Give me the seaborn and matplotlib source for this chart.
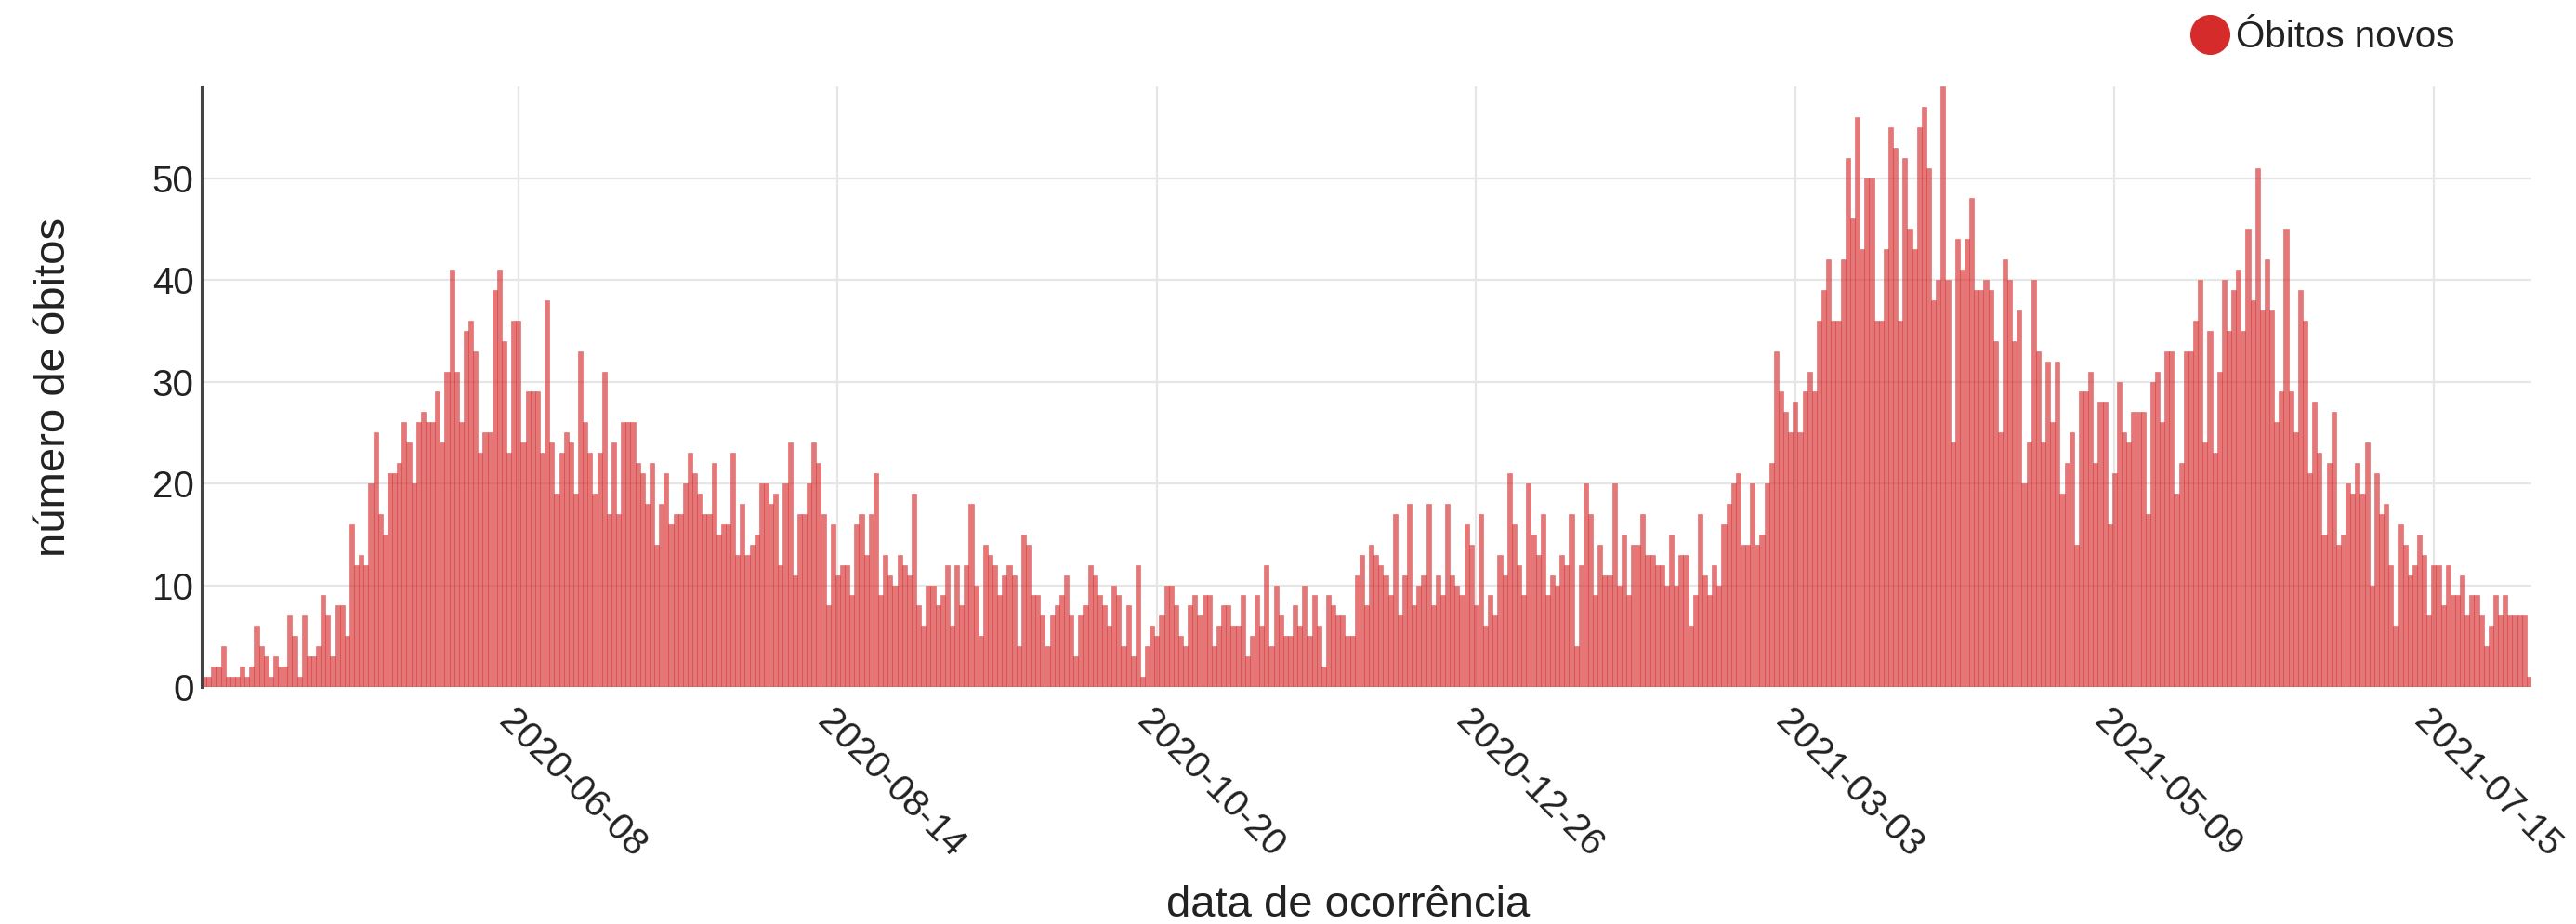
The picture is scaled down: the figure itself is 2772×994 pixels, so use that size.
import matplotlib
matplotlib.use("Agg")
import matplotlib.pyplot as plt
import matplotlib.transforms as mtransforms
from matplotlib.lines import Line2D
import pandas as pd
import seaborn as sns

# daily new deaths, one value per day starting at primeiro_dia
primeiro_dia = "2020-04-03"
obitos_novos = [
    1, 1, 2, 2, 4, 1, 1, 1, 2, 1,
    2, 6, 4, 3, 1, 3, 2, 2, 7, 5,
    1, 7, 3, 3, 4, 9, 7, 3, 8, 8,
    5, 16, 12, 13, 12, 20, 25, 17, 15, 21,
    21, 22, 26, 24, 20, 26, 27, 26, 26, 29,
    24, 31, 41, 31, 26, 35, 36, 33, 23, 25,
    25, 39, 41, 34, 23, 36, 36, 24, 29, 29,
    29, 23, 38, 24, 19, 23, 25, 24, 19, 33,
    26, 23, 19, 23, 31, 17, 24, 17, 26, 26,
    26, 22, 21, 18, 22, 14, 18, 21, 16, 17,
    17, 20, 23, 21, 19, 17, 17, 22, 15, 16,
    16, 23, 13, 18, 13, 14, 15, 20, 20, 18,
    19, 12, 20, 24, 11, 17, 17, 20, 24, 22,
    17, 8, 16, 11, 12, 12, 9, 16, 17, 13,
    17, 21, 9, 13, 11, 10, 13, 12, 11, 19,
    8, 6, 10, 10, 8, 9, 12, 6, 12, 8,
    12, 18, 10, 5, 14, 13, 12, 9, 11, 12,
    11, 4, 15, 14, 9, 9, 7, 4, 7, 8,
    9, 11, 7, 3, 7, 8, 12, 11, 9, 8,
    6, 10, 9, 4, 8, 3, 12, 1, 4, 6,
    5, 7, 10, 10, 8, 5, 4, 8, 9, 7,
    9, 9, 4, 6, 8, 8, 6, 6, 9, 3,
    5, 9, 6, 12, 4, 10, 7, 5, 5, 8,
    6, 10, 5, 9, 6, 2, 9, 8, 7, 7,
    5, 5, 11, 13, 8, 14, 13, 12, 11, 9,
    17, 7, 11, 18, 8, 10, 11, 18, 8, 11,
    9, 18, 11, 10, 9, 16, 14, 8, 17, 6,
    9, 7, 13, 11, 21, 16, 12, 9, 20, 15,
    13, 17, 9, 11, 10, 13, 12, 17, 4, 12,
    20, 17, 9, 14, 11, 11, 20, 10, 15, 9,
    14, 14, 17, 13, 13, 12, 12, 10, 15, 10,
    13, 13, 6, 9, 17, 11, 9, 12, 10, 16,
    18, 20, 21, 14, 14, 20, 14, 15, 20, 22,
    33, 29, 27, 25, 28, 25, 29, 31, 29, 36,
    39, 42, 36, 36, 42, 52, 46, 56, 43, 50,
    50, 36, 36, 43, 55, 53, 36, 52, 45, 43,
    55, 57, 51, 38, 40, 59, 40, 24, 44, 41,
    44, 48, 39, 39, 40, 39, 34, 25, 42, 40,
    34, 37, 20, 24, 40, 33, 24, 32, 26, 32,
    19, 22, 25, 14, 29, 29, 31, 22, 28, 28,
    16, 21, 30, 25, 24, 27, 27, 27, 17, 30,
    31, 26, 33, 33, 19, 22, 33, 33, 36, 40,
    24, 35, 23, 31, 40, 35, 39, 41, 35, 45,
    38, 51, 37, 42, 37, 26, 29, 45, 29, 25,
    39, 36, 21, 28, 23, 15, 22, 27, 14, 15,
    20, 19, 22, 19, 24, 10, 21, 17, 18, 12,
    6, 16, 14, 11, 12, 15, 13, 7, 12, 12,
    8, 12, 9, 9, 11, 7, 9, 9, 7, 4,
    6, 9, 7, 9, 7, 7, 7, 7, 1,
]
datas_ticks = ["2020-06-08", "2020-08-14", "2020-10-20", "2020-12-26",
               "2021-03-03", "2021-05-09", "2021-07-15"]
y_ticks = [0, 10, 20, 30, 40, 50]

datas = list(pd.date_range(primeiro_dia, periods=len(obitos_novos), freq="D").strftime("%Y-%m-%d"))
df = pd.DataFrame({"data": datas, "obitos": obitos_novos})

sns.set_style("white")
plt.rcParams["font.family"] = ["Liberation Sans", "DejaVu Sans"]

W, H = 2772, 994
fig = plt.figure(figsize=(W / 100, H / 100), dpi=100)
ax = fig.add_axes([217 / W, 1 - 739 / H, (2724 - 217) / W, (739 - 93) / H])

vermelho = "#d62b2b"
sns.barplot(data=df, x="data", y="obitos", color=vermelho, saturation=1,
            width=1.0, alpha=0.64, edgecolor=vermelho, linewidth=0.4, ax=ax)

# axes and grid
ax.set_xlim(-0.5, len(obitos_novos) - 0.5)
ax.set_ylim(0, 59)
ax.set_yticks(y_ticks)
ax.set_xticks([datas.index(d) for d in datas_ticks])
ax.set_xticklabels(datas_ticks, rotation=-45, ha="left", va="top", rotation_mode="anchor")
ax.grid(True, color="#e6e6e6", linewidth=1.6)
ax.set_axisbelow(True)
for lado in ["top", "right", "bottom"]:
    ax.spines[lado].set_visible(False)
ax.spines["left"].set_color("#444444")
ax.spines["left"].set_linewidth(2.2)
ax.tick_params(axis="both", length=0, labelsize=29, colors="#222222")
ax.tick_params(axis="y", pad=6)
ax.tick_params(axis="x", pad=13)
desloca = mtransforms.ScaledTranslation(-2 / 100, 0, fig.dpi_scale_trans)
for rotulo in ax.get_xticklabels():
    rotulo.set_transform(rotulo.get_transform() + desloca)

ax.set_xlabel("data de ocorrência", fontsize=34, color="#222222")
ax.xaxis.set_label_coords(0.492, -0.33)
ax.set_ylabel("número de óbitos", fontsize=34, color="#222222")
ax.yaxis.set_label_coords(-0.0545, 0.5)

# legend at top right
marca = Line2D([], [], marker="o", linestyle="", markersize=30,
               markerfacecolor=vermelho, markeredgecolor=vermelho, label="Óbitos novos")
ax.legend(handles=[marca], loc="center left", bbox_to_anchor=(2358 / W, 1 - 40 / H),
          bbox_transform=fig.transFigure, frameon=False, fontsize=29,
          handlelength=1.0, handletextpad=0.2, borderpad=0, borderaxespad=0,
          labelcolor="#222222")

fig.savefig("out.png", dpi=100)
